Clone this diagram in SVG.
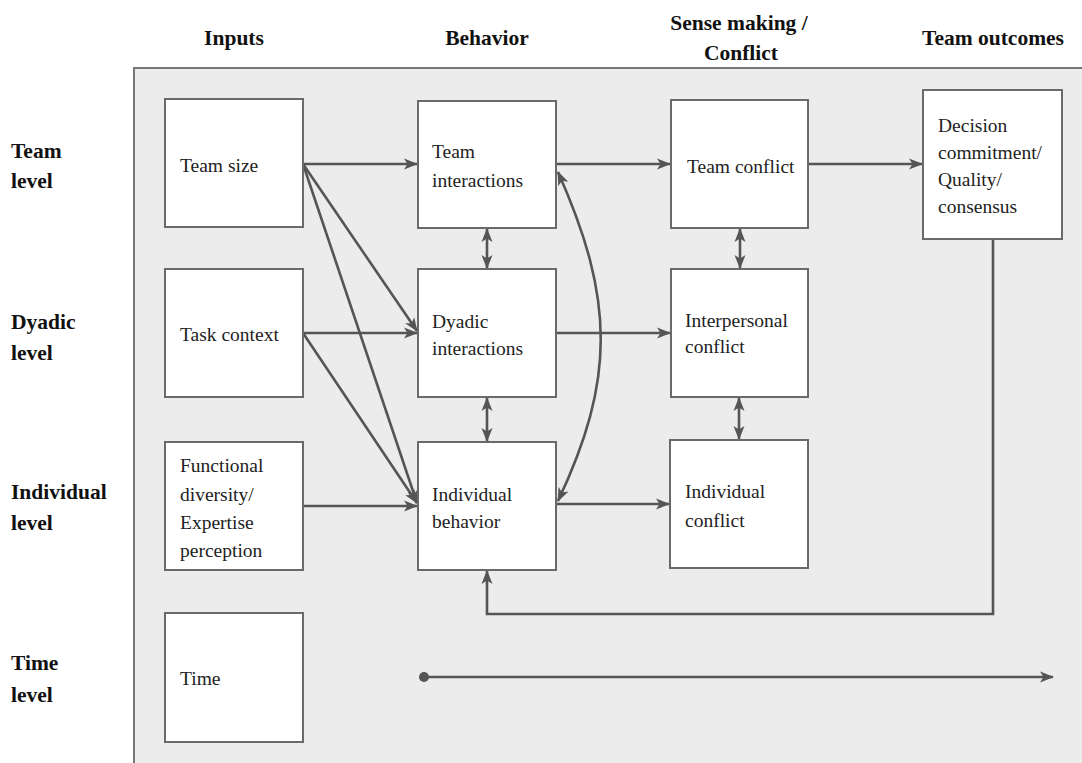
<svg xmlns="http://www.w3.org/2000/svg" width="1082" height="763" viewBox="0 0 1082 763">
<style>
.hdr{font-family:"Liberation Serif","Times New Roman",serif;font-weight:bold;font-size:21.5px;fill:#111}
.lbl{font-family:"Liberation Serif","Times New Roman",serif;font-size:19.5px;fill:#222}
.box{fill:#fff;stroke:#6a6a6a;stroke-width:2}
.ln{fill:none;stroke:#555;stroke-width:2.6}
</style>
<defs>
<marker id="ah" markerUnits="userSpaceOnUse" markerWidth="14" markerHeight="12" refX="13" refY="6" orient="auto-start-reverse">
<path d="M0,0.5 L14,6 L0,11.5 L3.5,6 z" fill="#555"/>
</marker>
</defs>
<rect width="1082" height="763" fill="#fff"/>
<rect x="134" y="68" width="1000" height="720" fill="#ececec" stroke="#777" stroke-width="2"/>

<g id="headers">
<text class="hdr" x="234" y="45" text-anchor="middle">Inputs</text>
<text class="hdr" x="487" y="45" text-anchor="middle">Behavior</text>
<text class="hdr" x="739" y="30" text-anchor="middle">Sense making /</text>
<text class="hdr" x="741" y="60" text-anchor="middle">Conflict</text>
<text class="hdr" x="993" y="45" text-anchor="middle">Team outcomes</text>
</g>
<g id="levels">
<text class="hdr" x="11" y="158">Team</text>
<text class="hdr" x="11" y="188">level</text>
<text class="hdr" x="11" y="329">Dyadic</text>
<text class="hdr" x="11" y="360">level</text>
<text class="hdr" x="11" y="499">Individual</text>
<text class="hdr" x="11" y="530">level</text>
<text class="hdr" x="11" y="670">Time</text>
<text class="hdr" x="11" y="702">level</text>
</g>

<g id="connectors">
<line class="ln" x1="303" y1="164" x2="417" y2="164" marker-end="url(#ah)"/>
<line class="ln" x1="556" y1="164" x2="670" y2="164" marker-end="url(#ah)"/>
<line class="ln" x1="808" y1="164" x2="922" y2="164" marker-end="url(#ah)"/>
<line class="ln" x1="303" y1="164" x2="417" y2="331" marker-end="url(#ah)"/>
<line class="ln" x1="303" y1="164" x2="417" y2="503" marker-end="url(#ah)"/>
<line class="ln" x1="303" y1="333" x2="417" y2="333" marker-end="url(#ah)"/>
<line class="ln" x1="303" y1="333" x2="417" y2="503" marker-end="url(#ah)"/>
<line class="ln" x1="303" y1="506" x2="417" y2="506" marker-end="url(#ah)"/>
<line class="ln" x1="556" y1="333" x2="670" y2="333" marker-end="url(#ah)"/>
<line class="ln" x1="556" y1="504" x2="669" y2="504" marker-end="url(#ah)"/>
<line class="ln" x1="487" y1="229" x2="487" y2="268" marker-start="url(#ah)" marker-end="url(#ah)"/>
<line class="ln" x1="487" y1="398" x2="487" y2="441" marker-start="url(#ah)" marker-end="url(#ah)"/>
<line class="ln" x1="740" y1="229" x2="740" y2="268" marker-start="url(#ah)" marker-end="url(#ah)"/>
<line class="ln" x1="739" y1="398" x2="739" y2="439" marker-start="url(#ah)" marker-end="url(#ah)"/>
<path class="ln" d="M558,172 C615,300 615,380 558,501" marker-start="url(#ah)" marker-end="url(#ah)"/>
<path class="ln" d="M993,239 L993,614 L487,614 L487,571" marker-end="url(#ah)"/>
<circle cx="424" cy="677" r="5" fill="#555"/>
<line class="ln" x1="424" y1="677" x2="1053" y2="677" marker-end="url(#ah)"/>
</g>

<g id="team-size"><rect class="box" x="165" y="99" width="138" height="128"/><text class="lbl" x="180" y="172">Team size</text></g>
<g id="task-context"><rect class="box" x="165" y="269" width="138" height="128"/><text class="lbl" x="180" y="341">Task context</text></g>
<g id="functional-diversity"><rect class="box" x="165" y="442" width="138" height="128"/>
<text class="lbl" x="180" y="472">Functional</text><text class="lbl" x="180" y="501">diversity/</text><text class="lbl" x="180" y="529">Expertise</text><text class="lbl" x="180" y="557">perception</text></g>
<g id="time"><rect class="box" x="165" y="613" width="138" height="129"/><text class="lbl" x="180" y="685">Time</text></g>

<g id="team-interactions"><rect class="box" x="418" y="101" width="138" height="127"/><text class="lbl" x="432" y="158">Team</text><text class="lbl" x="432" y="187">interactions</text></g>
<g id="dyadic-interactions"><rect class="box" x="418" y="269" width="138" height="128"/><text class="lbl" x="432" y="328">Dyadic</text><text class="lbl" x="432" y="355">interactions</text></g>
<g id="individual-behavior"><rect class="box" x="418" y="442" width="138" height="128"/><text class="lbl" x="432" y="501">Individual</text><text class="lbl" x="432" y="528">behavior</text></g>

<g id="team-conflict"><rect class="box" x="671" y="100" width="137" height="128"/><text class="lbl" x="687" y="173">Team conflict</text></g>
<g id="interpersonal-conflict"><rect class="box" x="671" y="269" width="137" height="128"/><text class="lbl" x="685" y="327">Interpersonal</text><text class="lbl" x="685" y="353">conflict</text></g>
<g id="individual-conflict"><rect class="box" x="670" y="440" width="138" height="128"/><text class="lbl" x="685" y="498">Individual</text><text class="lbl" x="685" y="527">conflict</text></g>

<g id="decision"><rect class="box" x="923" y="90" width="139" height="149"/>
<text class="lbl" x="938" y="132">Decision</text><text class="lbl" x="938" y="159">commitment/</text><text class="lbl" x="938" y="186">Quality/</text><text class="lbl" x="938" y="213">consensus</text></g>
</svg>
